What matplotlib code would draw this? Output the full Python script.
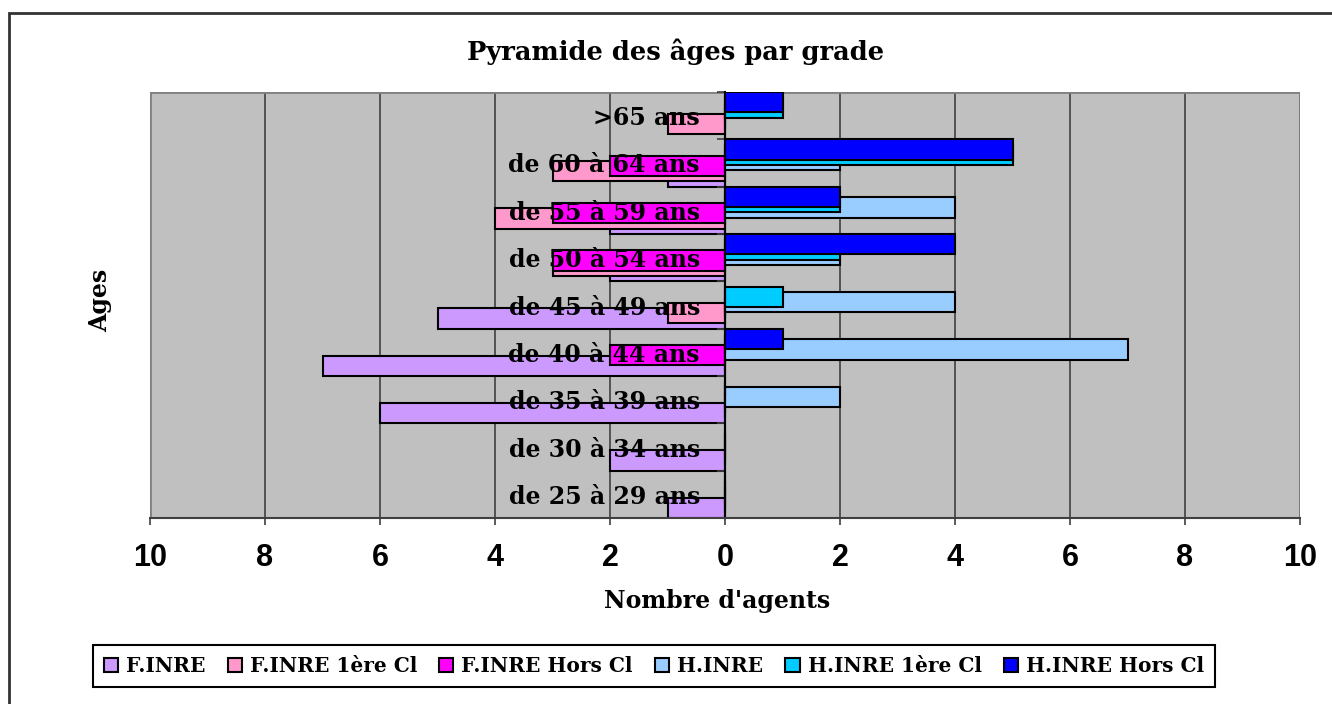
import matplotlib
matplotlib.use("Agg")
import matplotlib.pyplot as plt
from matplotlib.patches import Rectangle
import numpy as np

# Tranches d'âge (du bas vers le haut)
ages = ["de 25 à 29 ans", "de 30 à 34 ans", "de 35 à 39 ans", "de 40 à 44 ans",
        "de 45 à 49 ans", "de 50 à 54 ans", "de 55 à 59 ans", "de 60 à 64 ans",
        ">65 ans"]

# Effectifs par grade (femmes à gauche, hommes à droite)
f_inre = [1, 2, 6, 7, 5, 2, 2, 1, 0]
f_inre_1ere = [0, 0, 0, 0, 1, 3, 4, 3, 1]
f_inre_hors = [0, 0, 0, 2, 0, 3, 3, 2, 0]
h_inre = [0, 0, 2, 7, 4, 2, 4, 2, 0]
h_inre_1ere = [0, 0, 0, 0, 1, 2, 2, 5, 1]
h_inre_hors = [0, 0, 0, 1, 0, 4, 2, 5, 1]

series_names = ["F.INRE", "F.INRE 1ère Cl", "F.INRE Hors Cl",
                "H.INRE", "H.INRE 1ère Cl", "H.INRE Hors Cl"]
couleurs = ["#CC99FF", "#FF99CC", "#FF00FF", "#99CCFF", "#00CCFF", "#0000FF"]

xticks = [-10, -8, -6, -4, -2, 0, 2, 4, 6, 8, 10]
xtick_labels = ["10", "8", "6", "4", "2", "0", "2", "4", "6", "8", "10"]

serif = ["DejaVu Serif"]

fig = plt.figure(figsize=(13.32, 7.04), dpi=100)
ax = fig.add_axes([150 / 1332, 1 - 518 / 704, 1150 / 1332, 426 / 704])
ax.set_facecolor("#C0C0C0")

# Barres groupées avec chevauchement (style Excel)
valeurs = [f_inre, f_inre_1ere, f_inre_hors, h_inre, h_inre_1ere, h_inre_hors]
y = np.arange(len(ages))
pas = 0.114
hauteur = 0.43
for i, (vals, nom, c) in enumerate(zip(valeurs, series_names, couleurs)):
    signe = -1 if nom.startswith("F") else 1
    decal = -0.285 + i * pas
    ax.barh(y + decal, [signe * v for v in vals], height=hauteur, color=c,
            edgecolor="black", linewidth=1.5, label=nom, zorder=1)

# Grille verticale derrière les barres
for xv in xticks:
    ax.axvline(xv, color="#404040", linewidth=1.2, zorder=0.5)

ax.set_xlim(-10, 10)
ax.set_ylim(-0.5, len(ages) - 0.5)
ax.set_xticks(xticks)
ax.set_xticklabels(xtick_labels, fontfamily="Liberation Sans", fontweight="bold",
                   fontstretch="normal", fontsize=22)
ax.tick_params(axis="x", direction="out", length=5, width=1.2, color="#404040", pad=13)

# Axe vertical au zéro avec étiquettes des tranches
ax.spines["left"].set_position(("data", 0))
ax.spines["left"].set_color("black")
ax.spines["left"].set_linewidth(1.5)
ax.set_yticks(y)
ax.set_yticklabels(ages, fontfamily=serif, fontweight="bold", fontsize=17)
ax.tick_params(axis="y", which="major", length=0, pad=18)
ax.set_yticks(np.arange(len(ages) + 1) - 0.5, minor=True)
ax.tick_params(axis="y", which="minor", direction="out", length=6, width=1.2,
               color="#404040")
ax.spines["right"].set_visible(False)
ax.spines["top"].set_visible(False)
ax.spines["bottom"].set_color("#404040")
ax.spines["bottom"].set_linewidth(1.5)
ax.add_patch(Rectangle((0, 0), 1, 1, transform=ax.transAxes, fill=False,
                       edgecolor="#808080", linewidth=2, zorder=0.6))

fig.text(676 / 1332, 1 - 52 / 704, "Pyramide des âges par grade", ha="center",
         va="center", fontfamily=serif, fontweight="bold", fontsize=18.5)
fig.text(717 / 1332, 1 - 601 / 704, "Nombre d'agents", ha="center", va="center",
         fontfamily=serif, fontweight="bold", fontsize=17)
fig.text(100 / 1332, 1 - 300 / 704, "Ages", ha="center", va="center", rotation=90,
         fontfamily=serif, fontweight="bold", fontsize=17)

leg = fig.legend(loc="center", bbox_to_anchor=(654 / 1332, 1 - 666 / 704), ncol=6,
                 prop={"family": serif, "weight": "bold", "size": 14.5},
                 handlelength=0.7, handleheight=0.7, handletextpad=0.4,
                 columnspacing=1.1, fancybox=False, borderpad=0.55,
                 framealpha=1, edgecolor="black")
leg.get_frame().set_linewidth(1.5)

# Cadre extérieur
fig.add_artist(Rectangle((9 / 1332, -0.1), 1.1, 1.1 - 13 / 704,
                         transform=fig.transFigure, fill=False,
                         edgecolor="#333333", linewidth=2))

fig.savefig("out.png", dpi=100)
